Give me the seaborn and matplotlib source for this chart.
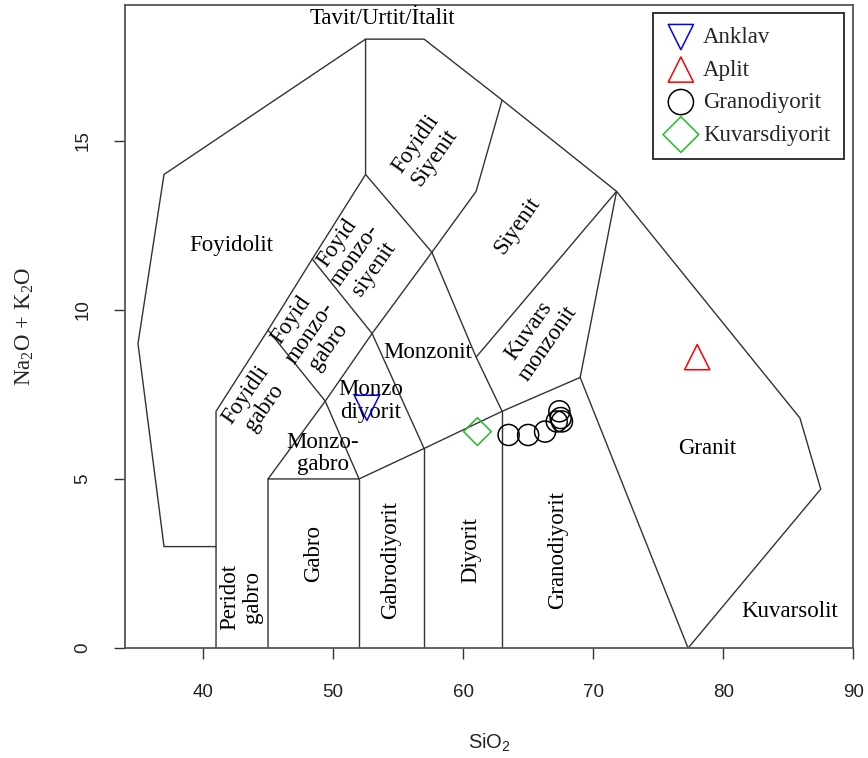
import matplotlib
matplotlib.use("Agg")
import matplotlib.pyplot as plt
import seaborn as sns
import pandas as pd

sns.set_theme(style="white")
plt.rcParams["font.family"] = ["Liberation Serif", "DejaVu Serif"]
plt.rcParams["mathtext.fontset"] = "custom"
plt.rcParams["mathtext.rm"] = "Liberation Serif"
plt.rcParams["mathtext.sf"] = "Liberation Sans"

# --- Field boundaries of the plutonic TAS diagram (SiO2, Na2O+K2O) ---
boundaries = [
    # outer foidolite envelope
    [(41, 3), (37, 3), (35, 9), (37, 14), (52.5, 18), (57, 18), (63, 16.2),
     (71.8, 13.5), (85.9, 6.8), (87.5, 4.7), (77.3, 0)],
    # foid-bearing series, lower and upper limits
    [(41, 0), (41, 7), (45, 9.4), (48.4, 11.5), (52.5, 14), (52.5, 18)],
    [(45, 0), (45, 5), (49.4, 7.3), (53, 9.3), (57.6, 11.7), (61, 13.5), (63, 16.2)],
    # cross boundaries
    [(45, 9.4), (49.4, 7.3), (52, 5)],
    [(48.4, 11.5), (53, 9.3), (57, 5.9)],
    [(52.5, 14), (57.6, 11.7), (61, 8.6), (63, 7)],
    [(61, 8.6), (71.8, 13.5), (69, 8), (77.3, 0)],
    # subalkaline floor
    [(45, 5), (52, 5), (57, 5.9), (63, 7), (69, 8)],
    [(52, 0), (52, 5)],
    [(57, 0), (57, 5.9)],
    [(63, 0), (63, 7)],
]

# --- Field names: text, SiO2, total alkali, rotation ---
field_text = ["Tavit/Urtit/İtalit", "Foyidolit", "Foyidli\nSiyenit",
              "Foyid\nmonzo-\nsiyenit", "Foyid\nmonzo-\ngabro", "Foyidli\ngabro",
              "Monzo\ndiyorit", "Monzo-\ngabro", "Monzonit", "Siyenit",
              "Kuvars\nmonzonit", "Granit", "Kuvarsolit", "Peridot\ngabro",
              "Gabro", "Gabrodiyorit", "Diyorit", "Granodiyorit"]
field_x = [53.8, 42.2, 57.1, 51.7, 48.2, 44.0, 52.9, 49.2, 57.3, 64.2,
           65.8, 78.8, 85.1, 42.9, 48.5, 54.4, 60.6, 67.3]
field_y = [18.6, 11.9, 14.7, 11.6, 9.3, 7.3, 7.3, 5.75, 8.75, 12.5,
           9.2, 5.9, 1.07, 1.5, 2.8, 2.6, 2.9, 2.9]
field_rot = [0, 0, 55, 55, 55, 55, 0, 0, 0, 55, 55, 0, 0, 90, 90, 90, 90, 90]

# --- Samples ---
groups = ["Anklav", "Aplit", "Granodiyorit", "Kuvarsdiyorit"]
anklav_sio2 = [52.6]
anklav_alk = [7.1]
aplit_sio2 = [78.0]
aplit_alk = [8.6]
granod_sio2 = [63.5, 65.0, 66.3, 67.2, 67.4, 67.5, 67.6]
granod_alk = [6.3, 6.3, 6.4, 6.7, 7.0, 6.8, 6.7]
kuvd_sio2 = [61.1]
kuvd_alk = [6.4]

fig = plt.figure(figsize=(8.68, 7.58), dpi=100)
ax = fig.add_axes([0.144, 0.145, 0.839, 0.848])

line_col = "#333333"
for seg in boundaries:
    xs, ys = zip(*seg)
    ax.plot(xs, ys, color=line_col, lw=1.0, solid_joinstyle="miter")

for t, x, y, r in zip(field_text, field_x, field_y, field_rot):
    ax.text(x, y, t, ha="center", va="center", rotation=r, fontsize=16.5,
            linespacing=1.1, color="black")

styles = {
    "Anklav": ("v", "blue"),
    "Aplit": ("^", "red"),
    "Granodiyorit": ("o", "black"),
    "Kuvarsdiyorit": ("D", "#22bb22"),
}
sample_x = [anklav_sio2, aplit_sio2, granod_sio2, kuvd_sio2]
sample_y = [anklav_alk, aplit_alk, granod_alk, kuvd_alk]
sizes = {"Anklav": 330, "Aplit": 330, "Granodiyorit": 230, "Kuvarsdiyorit": 200}
for g, xs, ys in zip(groups, sample_x, sample_y):
    m, c = styles[g]
    df = pd.DataFrame({"SiO2": xs, "alk": ys})
    sns.scatterplot(data=df, x="SiO2", y="alk", marker=m, s=sizes[g],
                    color=c, facecolor="none", edgecolor=c, linewidth=1.1,
                    ax=ax, label=g, zorder=3)

ax.set_xlim(34, 90)
ax.set_ylim(0, 19)
ax.set_xticks([40, 50, 60, 70, 80, 90])
ax.set_yticks([0, 5, 10, 15])
for lab in ax.get_xticklabels() + ax.get_yticklabels():
    lab.set_family(["Liberation Sans", "DejaVu Sans"])
    lab.set_fontsize(13.5)
    lab.set_color("#222222")
for lab in ax.get_yticklabels():
    lab.set_rotation(90)
    lab.set_va("center")
ax.tick_params(axis="both", direction="out", length=8, width=1, color="#333333",
               bottom=True, left=True, pad=16)
ax.tick_params(axis="x", pad=18)
for sp in ax.spines.values():
    sp.set_color("#555555")
    sp.set_linewidth(1.3)

ax.set_xlabel(r"$\mathsf{SiO_2}$", fontsize=14.5, labelpad=22)
ax.set_ylabel(r"Na$_2$O + K$_2$O", fontsize=16.5, labelpad=28)

leg = ax.legend(loc="upper right", bbox_to_anchor=(0.9876, 0.9876), borderaxespad=0,
                frameon=True, fancybox=False, fontsize=16.5, handletextpad=0.35,
                labelspacing=0.5, borderpad=0.6, handlelength=1.25)
leg.get_frame().set_edgecolor("black")
leg.get_frame().set_linewidth(1.4)
for h in leg.legend_handles:
    h.set_sizes([330])

fig.savefig("out.png", dpi=100)
